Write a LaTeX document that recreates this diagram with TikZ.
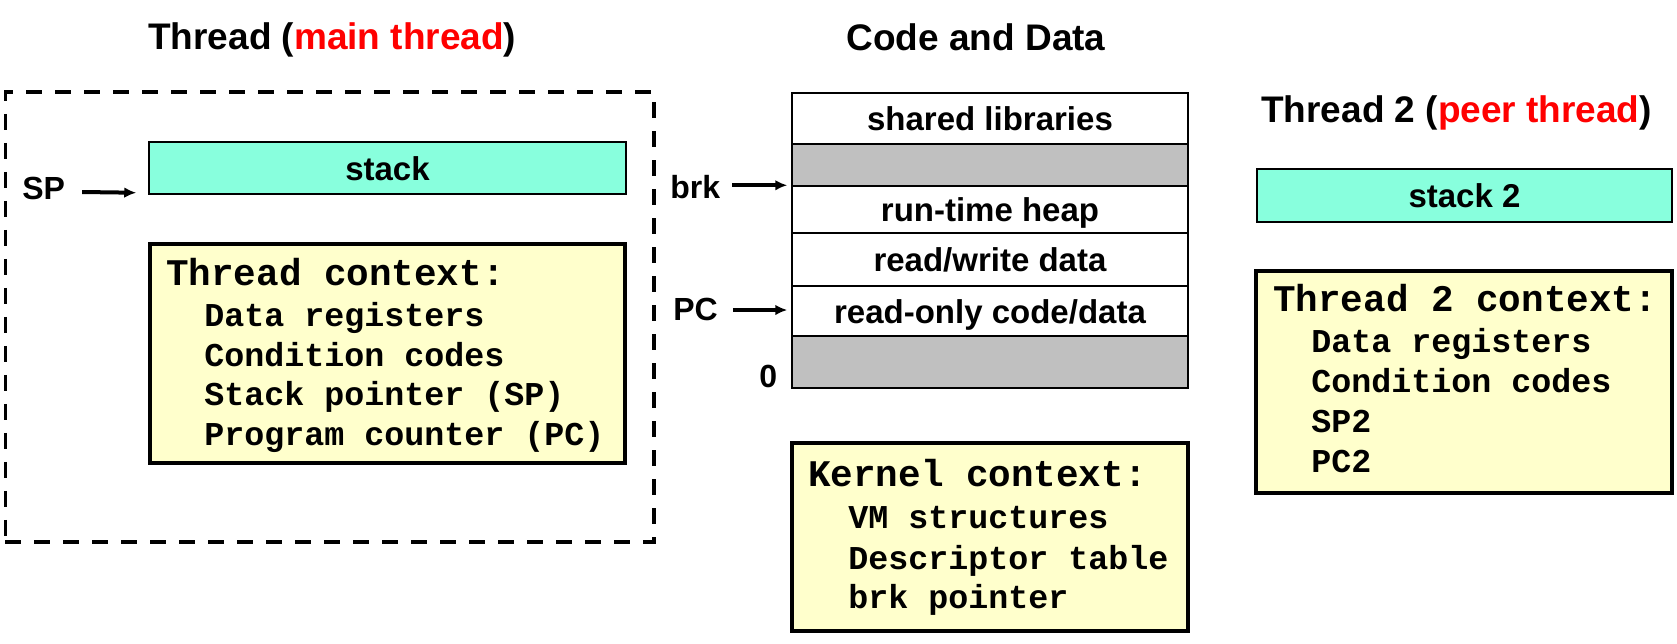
\documentclass[tikz,border=0pt]{standalone}
\usepackage{fontspec}
\setmainfont{Liberation Sans}
\newfontfamily\xMonoFam{Liberation Mono}
\usetikzlibrary{arrows.meta}
\definecolor{stackc}{RGB}{136,255,221}
\definecolor{ctxc}{RGB}{255,255,204}
\definecolor{gapc}{RGB}{192,192,192}
\newcommand\xTitleF{\fontsize{27.75pt}{32pt}\selectfont\bfseries}
\newcommand\xBoxF{\fontsize{24.75pt}{28pt}\selectfont\bfseries}
\newcommand\xPtrF{\fontsize{24pt}{28pt}\selectfont\bfseries}
\newcommand\xHeadF{\xMonoFam\fontsize{28.2pt}{30pt}\selectfont\bfseries}
\newcommand\xItemF{\xMonoFam\fontsize{25pt}{28pt}\selectfont\bfseries}
\tikzset{
  titletext/.style={font=\xTitleF, inner sep=0pt, anchor=base west},
  memrow/.style={draw, line width=1.1pt, minimum width=297pt, inner sep=0pt,
                 font=\xBoxF, text height=18pt, text depth=0pt},
  gaprow/.style={memrow, fill=gapc},
  stackbox/.style={draw, line width=1.1pt, fill=stackc, inner sep=0pt,
                   font=\xBoxF, text height=18pt, text depth=0pt},
  ctxbox/.style={draw, line width=3pt, fill=ctxc, inner sep=0pt},
  ctxhead/.style={font=\xHeadF, inner sep=0pt, anchor=base west},
  ctxitem/.style={font=\xItemF, inner sep=0pt, anchor=base west},
  ptrlbl/.style={font=\xPtrF, inner sep=0pt, anchor=base west},
  ptr/.style={line width=3pt, -{Latex[length=9pt, width=8pt]}},
  threadbox/.style={draw, line width=2.6pt, dash pattern=on 12pt off 9.75pt, inner sep=0pt}
}
\begin{document}
\begin{tikzpicture}[x=0.75pt, y=-0.75pt]
\useasboundingbox (0,0) rectangle (1677,643);

% ---------- main thread ----------
\node[titletext] (t1) at (148,49) {Thread (\textcolor{red}{main thread})};
\node[threadbox, minimum width=486.4pt, minimum height=337.5pt] (t1box) at (329.75,317) {};
\node[stackbox, minimum width=357.75pt, minimum height=39pt] (stack) at (387.5,168) {stack};
\node[ptrlbl] (sp) at (22,199) {SP};
\draw[ptr] (sp.east |- 0,192) ++(17,0) -- ([shift={(-12,-2)}]stack.south west);
\node[ctxbox, minimum width=356.25pt, minimum height=164.25pt] (ctx1) at (387.5,353.5) {};
\node[ctxhead] (c1h) at (166,285) {Thread context:};
\node[ctxitem] (c1a) at (204,326) {Data registers};
\node[ctxitem] (c1b) at (204,366) {Condition codes};
\node[ctxitem] (c1c) at (204,405) {Stack pointer (SP)};
\node[ctxitem] (c1d) at (204,445) {Program counter (PC)};

% ---------- code and data ----------
\node[titletext, anchor=base] (t2) at (976,50) {Code and Data};
\node[memrow, minimum height=38.25pt] (r1) at (990,118.5) {shared libraries};
\node[gaprow, minimum height=31.5pt] (r2) at (990,165) {};
\node[memrow, minimum height=35.25pt] (r3) at (990,209.5) {run-time heap};
\node[memrow, minimum height=39.75pt] (r4) at (990,259.5) {read/write data};
\node[memrow, minimum height=37.5pt] (r5) at (990,311) {read-only code/data};
\node[gaprow, minimum height=39pt] (r6) at (990,362) {};
\node[ptrlbl] (brk) at (670,198) {brk};
\draw[ptr] (brk.east |- r3.north) ++(12,0) -- ([xshift=-3pt]r3.north west);
\node[ptrlbl] (pc) at (673,320) {PC};
\draw[ptr] (pc.east |- r5.west) ++(15,-1) -- ([shift={(-4,-1)}]r5.west);
\node[ptrlbl] (zero) at (759,387) {0};
\node[ctxbox, minimum width=297pt, minimum height=141pt] (kctx) at (990,537) {};
\node[ctxhead] (kh) at (808,486) {Kernel context:};
\node[ctxitem] (ka) at (848,528) {VM structures};
\node[ctxitem] (kb) at (848,569) {Descriptor table};
\node[ctxitem] (kc) at (848,608) {brk pointer};

% ---------- peer thread ----------
\node[titletext] (t3) at (1261,122) {Thread 2 (\textcolor{red}{peer thread})};
\node[stackbox, minimum width=311.25pt, minimum height=39.75pt] (stack2) at (1464.5,195.5) {stack 2};
\node[ctxbox, minimum width=312pt, minimum height=166.5pt] (ctx2) at (1464,382) {};
\node[ctxhead] (c2h) at (1273,311) {Thread 2 context:};
\node[ctxitem] (c2a) at (1311,352) {Data registers};
\node[ctxitem] (c2b) at (1311,392) {Condition codes};
\node[ctxitem] (c2c) at (1311,432) {SP2};
\node[ctxitem] (c2d) at (1311,472) {PC2};
\end{tikzpicture}
\end{document}
